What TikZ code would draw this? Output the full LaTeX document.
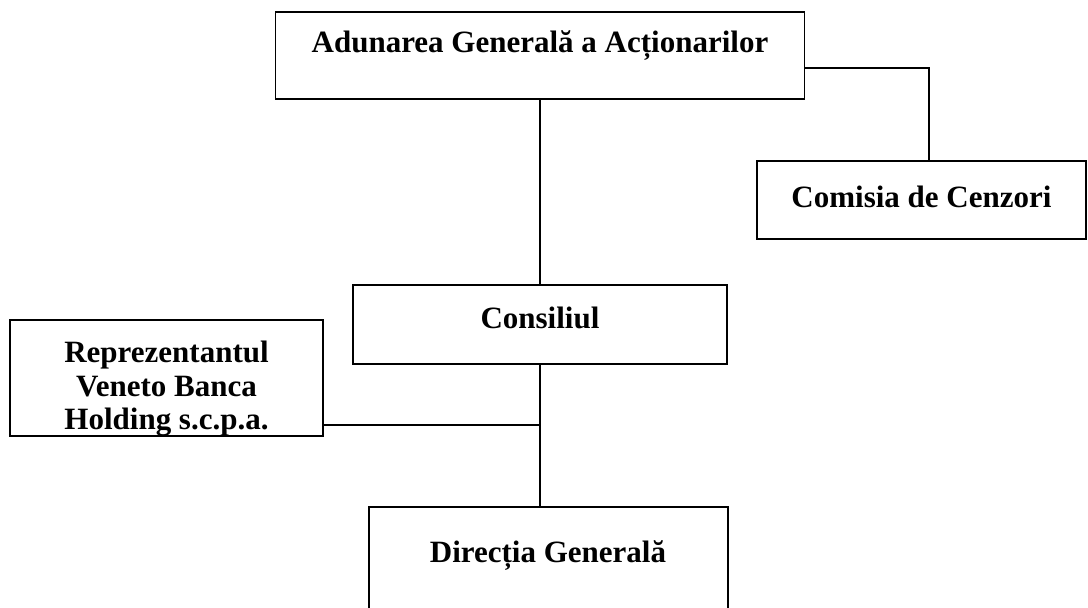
\documentclass[tikz,border=0pt]{standalone}
\usepackage{fontspec}
\setmainfont{Liberation Serif}
\begin{document}
\begin{tikzpicture}[x=1pt,y=-1pt,
  box/.style={draw=black,line width=1.6pt,fill=white,inner sep=0pt},
  lbl/.style={font=\fontsize{31}{33.5}\selectfont\bfseries,align=center,inner sep=0pt},
  conn/.style={draw=black,line width=1.6pt}]
\useasboundingbox (0,0) rectangle (1088,608);
\clip (0,0) rectangle (1088,608);
\fill[white] (0,0) rectangle (1088,608);
% boxes
\node[box,minimum width=529pt,minimum height=87pt] (aga) at (540,55.5) {};
\node[box,minimum width=329pt,minimum height=78pt] (cc) at (921.5,200) {};
\node[box,minimum width=374pt,minimum height=79pt] (cons) at (540,324.5) {};
\node[box,minimum width=313pt,minimum height=116pt] (rep) at (166.5,378) {};
\node[box,minimum width=359pt,minimum height=108pt] (dg) at (548.5,561) {};
% texts
\node[lbl] (agaT) at (540,46) {Adunarea Generală a Acționarilor};
\node[lbl] (ccT) at (921.5,197) {Comisia de Cenzori};
\node[lbl] (consT) at (540,318) {Consiliul};
\node[lbl] (repT) at (166.5,389) {Reprezentantul\\Veneto Banca\\Holding s.c.p.a.};
\node[lbl] (dgT) at (548,556) {Direcția Generală};
% connectors
\draw[conn] (aga.south) -- (cons.north);
\draw[conn] ([yshift=-12.5pt]aga.east) -| ([xshift=7.5pt]cc.north);
\draw[conn] (cons.south) -- (cons.south |- dg.north);
\coordinate (repJ) at (540,425);
\draw[conn] (rep.east |- repJ) -- (repJ);
\end{tikzpicture}
\end{document}
